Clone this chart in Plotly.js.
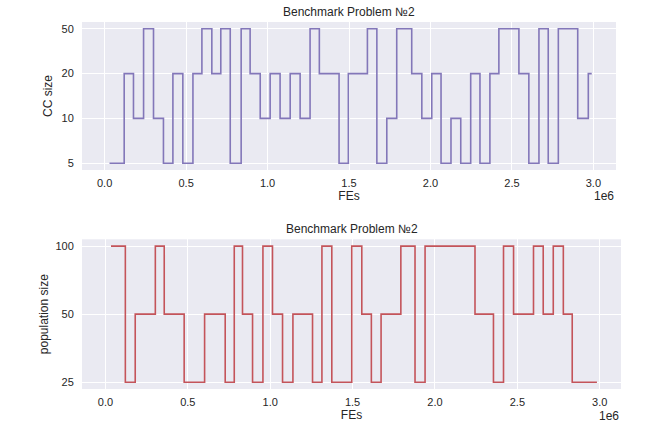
<!DOCTYPE html>
<html>
<head>
<meta charset="utf-8">
<script src="https://cdn.plot.ly/plotly-3.0.1.min.js"></script>
<style>html,body{margin:0;padding:0;background:#fff;}#chart{width:672px;height:445px;}</style>
</head>
<body>
<div id="chart"></div>
<script>
// ---- data (FEs, level) : step changes ----
const chartTitle = 'Benchmark Problem №2';

const ccLevels = ['5', '10', '20', '50'];
const ccFEs = [30000, 120000, 177000, 239000, 300000, 361000, 419000, 480000, 542000, 597000,
  658000, 713000, 771000, 838000, 893000, 955000, 1016000, 1077000, 1139000, 1200000,
  1261000, 1318000, 1439000, 1496000, 1613000, 1671000, 1732000, 1793000, 1885000, 1947000,
  2008000, 2065000, 2126000, 2186000, 2247000, 2304000, 2365000, 2420000, 2543000, 2604000,
  2666000, 2723000, 2785000, 2904000, 2969000, 2990000];
const ccSize = ['5', '20', '10', '50', '10', '5', '20', '5', '20', '50',
  '20', '50', '5', '50', '20', '10', '20', '10', '20', '10',
  '50', '20', '5', '20', '50', '5', '10', '50', '20', '10',
  '20', '5', '10', '5', '20', '5', '20', '50', '20', '5',
  '50', '5', '50', '10', '20', '20'];

const popLevels = ['25', '50', '100'];
const popFEs = [34000, 121000, 181000, 303000, 357000, 478000, 602000, 727000, 782000, 832000,
  893000, 956000, 1014000, 1075000, 1138000, 1257000, 1314000, 1374000, 1495000, 1556000,
  1614000, 1673000, 1793000, 1879000, 1940000, 2243000, 2355000, 2416000, 2477000, 2598000,
  2657000, 2718000, 2779000, 2833000, 2983000];
const popSize = ['100', '25', '50', '100', '50', '25', '50', '25', '100', '50',
  '25', '100', '50', '25', '50', '25', '100', '25', '100', '50',
  '25', '50', '100', '25', '100', '50', '25', '100', '50', '100',
  '50', '100', '50', '25', '25'];

const xTickVals = [0, 500000, 1000000, 1500000, 2000000, 2500000, 3000000];
const xTickText = ['0.0', '0.5', '1.0', '1.5', '2.0', '2.5', '3.0'];
const xExponent = '1e6';

// ---- styling ----
const FONT = 'Liberation Sans, Arial, sans-serif';
const TXT = '#262626';

const traces = [
  {x: ccFEs, y: ccSize, type: 'scatter', mode: 'lines', xaxis: 'x', yaxis: 'y',
   line: {shape: 'hv', color: '#8377b9', width: 1.6}, hoverinfo: 'skip'},
  {x: popFEs, y: popSize, type: 'scatter', mode: 'lines', xaxis: 'x2', yaxis: 'y2',
   line: {shape: 'hv', color: '#c4545a', width: 1.6}, hoverinfo: 'skip'}
];

function xAxis(domain, range, anchor) {
  return {
    domain: domain, range: range, anchor: anchor,
    tickmode: 'array', tickvals: xTickVals, ticktext: xTickText,
    showgrid: true, gridcolor: '#ffffff', gridwidth: 1,
    zeroline: false, showline: false,
    ticks: 'outside', ticklen: 3, tickcolor: 'rgba(0,0,0,0)',
    tickfont: {family: FONT, size: 11, color: TXT},
    title: {text: 'FEs', font: {family: FONT, size: 12, color: TXT}, standoff: 0},
    automargin: false, fixedrange: true
  };
}
function yAxis(domain, levels, range, anchor, title, standoff) {
  return {
    domain: domain, anchor: anchor, type: 'category',
    categoryorder: 'array', categoryarray: levels, range: range,
    showgrid: true, gridcolor: '#ffffff', gridwidth: 1,
    zeroline: false, showline: false,
    ticks: 'outside', ticklen: 5, tickcolor: 'rgba(0,0,0,0)',
    tickfont: {family: FONT, size: 11, color: TXT},
    title: {text: title, font: {family: FONT, size: 12, color: TXT}, standoff: standoff},
    automargin: false, fixedrange: true
  };
}

const L = 82, R = 51, T = 22, B = 56;
const W = 672 - L - R, H = 445 - T - B;

const layout = {
  width: 672, height: 445,
  margin: {l: L, r: R, t: T, b: B, pad: 0},
  paper_bgcolor: '#ffffff',
  plot_bgcolor: '#EAEAF2',
  showlegend: false,
  font: {family: FONT, size: 11, color: TXT},
  xaxis: xAxis([0, (616 - L) / W], [-139000, 3139000], 'y'),
  yaxis: yAxis([(389 - 170) / H, 1], ccLevels, [-0.15, 3.15], 'x', 'CC size', 6),
  xaxis2: xAxis([0, 1], [-142000, 3129000], 'y2'),
  yaxis2: yAxis([0, (389 - 239.3) / H], popLevels, [-0.1, 2.1], 'x2', 'population size', 4),
  annotations: [
    {text: chartTitle, xref: 'x domain', yref: 'y domain', x: 0.5, y: 1,
     xanchor: 'center', yanchor: 'bottom', yshift: 1, showarrow: false,
     font: {family: FONT, size: 12, color: TXT}},
    {text: chartTitle, xref: 'x2 domain', yref: 'y2 domain', x: 0.5, y: 1,
     xanchor: 'center', yanchor: 'bottom', yshift: 1, showarrow: false,
     font: {family: FONT, size: 12, color: TXT}},
    {text: xExponent, xref: 'x domain', yref: 'y domain', x: 1, y: 0,
     xanchor: 'right', yanchor: 'top', yshift: -17, showarrow: false,
     font: {family: FONT, size: 12, color: TXT}},
    {text: xExponent, xref: 'x2 domain', yref: 'y2 domain', x: 1, y: 0,
     xanchor: 'right', yanchor: 'top', yshift: -18, showarrow: false,
     font: {family: FONT, size: 12, color: TXT}}
  ]
};

Plotly.newPlot('chart', traces, layout, {displayModeBar: false, staticPlot: true});
</script>
</body>
</html>
